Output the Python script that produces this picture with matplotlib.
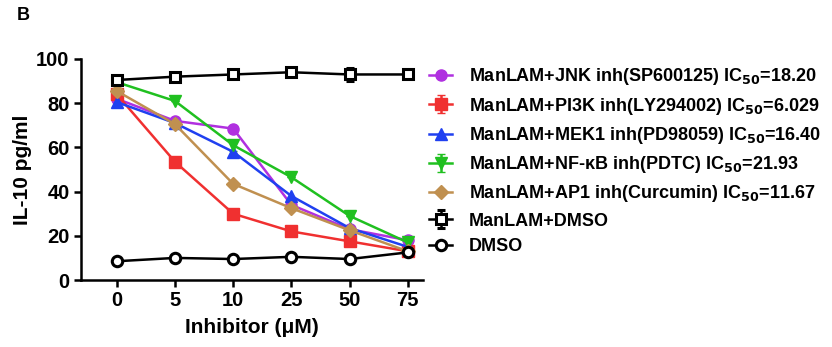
import matplotlib.pyplot as plt

plt.rcParams['font.family'] = ['Liberation Sans', 'DejaVu Sans']
plt.rcParams['font.weight'] = 'bold'

# donnees
doses = ['0', '5', '10', '25', '50', '75']
jnk = [82, 72, 68.5, 34, 23, 18]
pi3k = [84, 53.5, 30, 22, 17.5, 13]
pi3k_err = [0, 2, 0, 0, 0, 0]
mek1 = [80.5, 71, 58, 38, 23.5, 15]
nfkb = [89.5, 81, 61, 46.5, 29, 17]
nfkb_err = [0, 0, 2.5, 0, 0, 0]
ap1 = [85.5, 70.5, 43.5, 32.5, 22.5, 13]
manlam_dmso = [90.5, 92, 93, 94, 93, 93]
manlam_dmso_err = [0, 0, 0, 0, 3, 0]
dmso = [8.5, 10, 9.5, 10.5, 9.5, 12.5]

labels = ['ManLAM+JNK inh(SP600125) IC$_{50}$=18.20',
          'ManLAM+PI3K inh(LY294002) IC$_{50}$=6.029',
          'ManLAM+MEK1 inh(PD98059) IC$_{50}$=16.40',
          'ManLAM+NF-\u03baB inh(PDTC) IC$_{50}$=21.93',
          'ManLAM+AP1 inh(Curcumin) IC$_{50}$=11.67',
          'ManLAM+DMSO',
          'DMSO']

x = range(len(doses))

fig = plt.figure(figsize=(8.32, 3.47), dpi=100)
ax = fig.add_axes([0.097, 0.193, 0.412, 0.637])

series = [
    (jnk, None, '#b030e0', 'o', True),
    (pi3k, pi3k_err, '#f03030', 's', True),
    (mek1, None, '#2040f0', '^', True),
    (nfkb, nfkb_err, '#20c020', 'v', True),
    (ap1, None, '#c09050', 'D', True),
    (manlam_dmso, manlam_dmso_err, 'black', 's', False),
    (dmso, None, 'black', 'o', False),
]

for (vals, err, col, mk, plein), lab in zip(series, labels):
    if plein:
        ax.errorbar(x, vals, yerr=err, color=col, marker=mk, markersize=8 if mk != 'D' else 7,
                    lw=1.8, capsize=3, label=lab)
    else:
        ax.errorbar(x, vals, yerr=err, color=col, marker=mk, markersize=7.5,
                    markerfacecolor='white', markeredgewidth=2.2, lw=1.8, capsize=3, label=lab)

ax.set_xlim(-0.62, 5.27)
ax.set_ylim(0, 100)
ax.set_xticks(list(x))
ax.set_xticklabels(doses)
ax.set_yticks([0, 20, 40, 60, 80, 100])
ax.tick_params(labelsize=14.5, width=1.8, length=5, pad=3)
for s in ['top', 'right']:
    ax.spines[s].set_visible(False)
for s in ['left', 'bottom']:
    ax.spines[s].set_linewidth(1.8)

ax.set_ylabel('IL-10 pg/ml', fontsize=15, fontweight='bold', labelpad=3)
ax.set_xlabel('Inhibitor (\u03bcM)', fontsize=15, fontweight='bold', labelpad=6)

ax.legend(loc='upper left', bbox_to_anchor=(0.995, 1.0), frameon=False, fontsize=13,
          handlelength=1.3, handletextpad=0.9, labelspacing=0.46, borderaxespad=0)

fig.text(0.02, 0.955, 'B', fontsize=13, fontweight='bold', va='center')

fig.savefig('out.png', dpi=100)
